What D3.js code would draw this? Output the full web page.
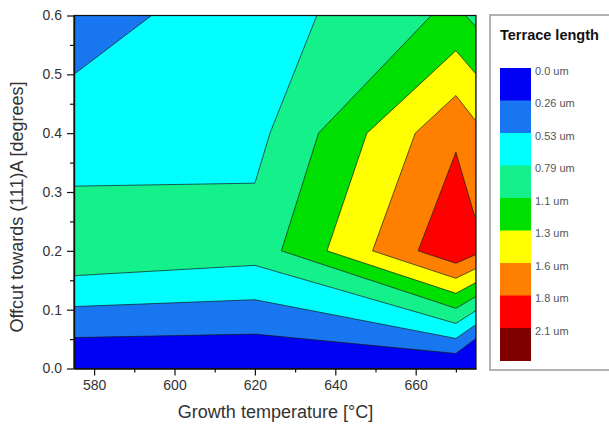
<!DOCTYPE html>
<html lang="en">
  <head>
    <meta charset="utf-8">
    <title>Terrace length contour</title>
    <script src="https://cdn.jsdelivr.net/npm/d3@7"></script>
    <style>
      body { margin: 0; background: #fff; }
      text { font-family: "Liberation Sans", Arial, sans-serif; }
    </style>
  </head>
  <body>
    <script>
      // Measured grid (rows = offcut, columns = growth temperature)
      var temps = [575, 620, 670, 675];
      var offcuts = [0, 0.2, 0.4, 0.6];
      var row0 = [0, 0, 0, -0.3];
      var row1 = [1.0, 0.9, 2.06, 1.91];
      var row2 = [0.616, 0.707, 1.8, 1.645];
      var row3 = [0.436, 0.646, 1.11, 0.99];

      // Contour levels and legend
      var levels = [0, 0.263, 0.526, 0.789, 1.053, 1.316, 1.579, 1.842, 2.105];
      var levelLabels = ["0.0 um", "0.26 um", "0.53 um", "0.79 um", "1.1 um", "1.3 um", "1.6 um", "1.8 um", "2.1 um"];
      var bandColors = ["#0000f5", "#1876f0", "#00ffff", "#14f08a", "#00e000", "#ffff00", "#ff8000", "#ff0000", "#800000"];

      var xTicks = [580, 600, 620, 640, 660];
      var xMinor = [590, 610, 630, 650, 670];
      var yTicks = [0, 0.1, 0.2, 0.3, 0.4, 0.5, 0.6];
      var yMinor = [0.05, 0.15, 0.25, 0.35, 0.45, 0.55];

      var margin = {top: 15.5, left: 74};
      var width = 402, height = 353;

      var svg = d3.select("body").append("svg")
                  .attr("width", 609)
                  .attr("height", 430);
      svg.append("rect").attr("width", 609).attr("height", 430).attr("fill", "#fff");

      var g = svg.append("g")
                 .attr("transform", "translate(" + margin.left + "," + margin.top + ")");

      var x = d3.scaleLinear().domain([575, 675]).range([0, width]);
      var y = d3.scaleLinear().domain([0, 0.6]).range([height, 0]);

      // grid index -> data units (grid value i sits at i + 0.5)
      var gx = d3.scaleLinear().domain(temps.map(function(d, i) { return i + 0.5; })).range(temps).clamp(true);
      var gy = d3.scaleLinear().domain(offcuts.map(function(d, i) { return i + 0.5; })).range(offcuts).clamp(true);

      var grid = [].concat(row0, row1, row2, row3);
      var contours = d3.contours()
                       .size([temps.length, offcuts.length])
                       .thresholds(levels.slice(1))(grid);

      var proj = d3.geoTransform({
        point: function(px, py) { this.stream.point(x(gx(px)), y(gy(py))); }
      });
      var path = d3.geoPath(proj);

      g.append("clipPath").attr("id", "plot-clip")
        .append("rect").attr("width", width).attr("height", height);

      var plot = g.append("g").attr("clip-path", "url(#plot-clip)");
      plot.append("rect")
          .attr("width", width).attr("height", height)
          .attr("fill", bandColors[0]);

      plot.selectAll("path.band")
          .data(contours)
          .enter()
          .append("path")
          .attr("class", "band")
          .attr("d", path)
          .attr("fill", function(d, i) { return bandColors[i + 1]; })
          .attr("stroke", "#1a1a1a")
          .attr("stroke-width", 0.7)
          .attr("stroke-linejoin", "round");

      // Axes
      g.append("g")
        .attr("transform", "translate(0," + height + ")")
        .call(d3.axisBottom(x).tickValues(xTicks).tickSize(7).tickSizeOuter(0).tickPadding(5));
      g.append("g")
        .attr("transform", "translate(0," + height + ")")
        .call(d3.axisBottom(x).tickValues(xMinor).tickSize(4).tickSizeOuter(0).tickFormat(""));
      g.append("g")
        .call(d3.axisLeft(y).tickValues(yTicks).tickFormat(d3.format(".1f")).tickSize(7).tickSizeOuter(0).tickPadding(5));
      g.append("g")
        .call(d3.axisLeft(y).tickValues(yMinor).tickSize(4).tickSizeOuter(0).tickFormat(""));

      g.selectAll(".tick line, .domain").attr("stroke", "#111").attr("stroke-width", 1.2);
      g.selectAll(".tick text")
        .attr("font-size", 14)
        .attr("fill", "#333")
        .attr("font-family", "Liberation Sans, Arial, sans-serif");

      // frame
      g.append("rect")
        .attr("width", width).attr("height", height)
        .attr("fill", "none").attr("stroke", "#111").attr("stroke-width", 1.2);

      // Axis titles
      svg.append("text")
        .attr("x", 275.5).attr("y", 418)
        .attr("text-anchor", "middle")
        .attr("font-size", 18)
        .attr("fill", "#333")
        .text("Growth temperature [°C]");

      svg.append("text")
        .attr("transform", "translate(23,207) rotate(-90)")
        .attr("text-anchor", "middle")
        .attr("font-size", 18)
        .attr("fill", "#333")
        .text("Offcut towards (111)A [degrees]");

      // Legend
      var legend = svg.append("g");
      legend.append("rect")
        .attr("x", 490).attr("y", 15)
        .attr("width", 140).attr("height", 355)
        .attr("fill", "#fff")
        .attr("stroke", "#999")
        .attr("stroke-width", 1.5);
      legend.append("text")
        .attr("x", 500).attr("y", 40)
        .attr("font-size", 14.5)
        .attr("font-weight", "bold")
        .attr("fill", "#111")
        .text("Terrace length");

      var barTop = 68, barH = 32.5;
      legend.selectAll("rect.swatch")
        .data(bandColors)
        .enter()
        .append("rect")
        .attr("class", "swatch")
        .attr("x", 500)
        .attr("y", function(d, i) { return barTop + i * barH; })
        .attr("width", 31)
        .attr("height", barH + 0.5)
        .attr("fill", function(d) { return d; });
      legend.selectAll("text.lvl")
        .data(levelLabels)
        .enter()
        .append("text")
        .attr("class", "lvl")
        .attr("x", 535)
        .attr("y", function(d, i) { return barTop + i * barH + 4; })
        .attr("dominant-baseline", "middle")
        .attr("font-size", 11)
        .attr("fill", "#555")
        .text(function(d) { return d; });
    </script>
  </body>
</html>
